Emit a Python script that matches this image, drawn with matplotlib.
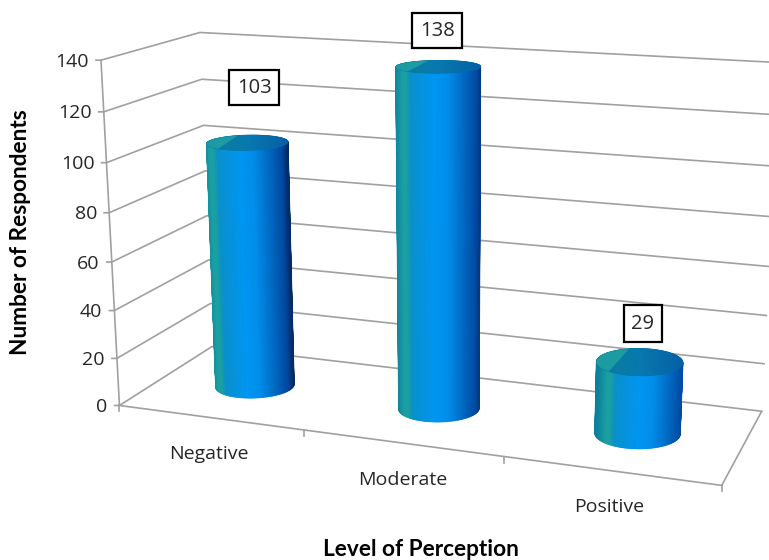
import numpy as np
from matplotlib import pyplot as plt
from matplotlib.collections import LineCollection
from matplotlib.colors import LinearSegmentedColormap
from matplotlib.patches import Rectangle

# data
categories = ["Negative", "Moderate", "Positive"]
respondents = [103, 138, 29]
y_ticks = [0, 20, 40, 60, 80, 100, 120, 140]

# look of the excel style 3d chart
grid_color = "#a0a0a0"
bar_x = [0.5, 1.5, 2.5]
bar_d = [0.5, 0.5, 0.5]
# base ellipse on the floor, in pixels
base_rx = [39, 40, 42.5]
base_ry = [12, 13, 15]
base_tilt = [-1.5, -0.5, 0.5]
shade_shift = [0.07, 0.03, -0.02]
label_off = [(7, -55), (-1, -36), (3, -38)]
box_size = [(50, 35), (50, 35), (38, 37)]
cat_off = [(-1, 36), (0, 37), (-2, 36)]

side_cmap = LinearSegmentedColormap.from_list("side", [
    (0.00, "#0c7f9c"), (0.10, "#1a9fa3"), (0.15, "#1a9fa3"), (0.20, "#0a90cc"),
    (0.45, "#0096f2"), (0.60, "#008eea"), (0.84, "#005cb4"), (0.93, "#0048a0"), (1.00, "#002c66")])
top_cmap = LinearSegmentedColormap.from_list("top", ["#0a7d9c", "#0879ae", "#0460a6"])

# box corners (cat, depth, value) and where they land on the picture
corners_3d = np.array([[0, 0, 0], [3, 0, 0], [0, 1, 0], [3, 1, 0],
                       [0, 0, 140], [0, 1, 140], [3, 1, 140]], dtype=float)
corners_px = np.array([[119.5, 406], [721.7, 485], [212, 346], [761.7, 411.7],
                       [101, 60], [200, 32.7], [779, 62.5]])


def fit_camera(pts, px):
    a = []
    b = []
    for (x, d, z), (u, v) in zip(pts, px):
        a.append([x, d, z, 1, 0, 0, 0, 0, -u * x, -u * d, -u * z])
        b.append(u)
        a.append([0, 0, 0, 0, x, d, z, 1, -v * x, -v * d, -v * z])
        b.append(v)
    sol = np.linalg.lstsq(np.array(a), np.array(b), rcond=None)[0]
    return np.append(sol, 1).reshape(3, 4)


cam = fit_camera(corners_3d, corners_px)


def proj(x, d, z):
    x, d, z = np.broadcast_arrays(np.asarray(x, float), np.asarray(d, float), np.asarray(z, float))
    h = cam @ np.stack([x, d, z, np.ones_like(x)])
    return h[0] / h[2], h[1] / h[2]


def line3d(ax, a, b, **kw):
    xa, ya = proj(*a)
    xb, yb = proj(*b)
    ax.plot([xa, xb], [ya, yb], color=grid_color, lw=1.2, solid_capstyle="round", zorder=1, **kw)


def floor_offsets(cx, cd, du, dv):
    # turn pixel offsets on the floor into cat/depth offsets
    e = 1e-3
    x0, y0 = proj(cx, cd, 0)
    x1, y1 = proj(cx + e, cd, 0)
    x2, y2 = proj(cx, cd + e, 0)
    jac = np.array([[(x1 - x0) / e, (x2 - x0) / e], [(y1 - y0) / e, (y2 - y0) / e]])
    off = np.linalg.solve(jac, np.vstack([du, dv]))
    return cx + off[0], cd + off[1]


def cylinder(ax, cx, cd, h, rx, ry, tilt, shift, z0):
    # side, th runs over the front half from left to right
    th = np.linspace(np.pi, 0, 121)
    xs, ds = floor_offsets(cx, cd, rx * np.cos(th), ry * np.sin(th) + tilt * np.cos(th))
    bx, by = proj(xs, ds, 0)
    tx, ty = proj(xs, ds, h)
    t = (np.cos(th) + 1) / 2
    c = np.clip((t + shift) / 1.07, 0, 1)
    ax.pcolormesh(np.array([bx, tx]), np.array([by, ty]), np.array([c, c]), cmap=side_cmap,
                  vmin=0, vmax=1, shading="gouraud", zorder=z0)
    # smooth the edges of the mesh
    segs = [[(bx[i], by[i]), (bx[i + 1], by[i + 1])] for i in range(len(th) - 1)]
    segs.append([(bx[0], by[0]), (tx[0], ty[0])])
    segs.append([(bx[-1], by[-1]), (tx[-1], ty[-1])])
    cols = [side_cmap(v) for v in c[:-1]] + [side_cmap(c[0]), side_cmap(c[-1])]
    ax.add_collection(LineCollection(segs, colors=cols, linewidths=1.1, zorder=z0 + 0.5))

    # top
    us = np.sin(np.linspace(-np.pi / 2, np.pi / 2, 101))
    w = np.sqrt(np.clip(1 - us ** 2, 0, 1))
    xf, df = floor_offsets(cx, cd, rx * us, ry * w + tilt * us)
    xb, db = floor_offsets(cx, cd, rx * us, -ry * w + tilt * us)
    fx, fy = proj(xf, df, h)
    kx, ky = proj(xb, db, h)
    c = (us + 1) / 2
    ax.fill(np.r_[fx, kx[::-1]], np.r_[fy, ky[::-1]], color=top_cmap(0.5), lw=0.5, zorder=z0 + 1)
    ax.pcolormesh(np.array([fx, kx]), np.array([fy, ky]), np.array([c, c]), cmap=top_cmap,
                  vmin=0, vmax=1, shading="gouraud", zorder=z0 + 1)

    # teal part of the top
    a = np.radians(np.linspace(135, 255, 60))
    xt, dt = floor_offsets(cx, cd, rx * np.cos(a), ry * np.sin(a) + tilt * np.cos(a))
    px, py = proj(xt, dt, h)
    ax.fill(px, py, color="#1c9ca2", lw=0.3, zorder=z0 + 2)


plt.rcParams["font.family"] = ["Open Sans", "DejaVu Sans"]
fig = plt.figure(figsize=(7.69, 5.6), dpi=100)
ax = fig.add_axes([0, 0, 1, 1])
ax.set_xlim(0, 769)
ax.set_ylim(560, 0)
ax.axis("off")

# walls
for v in y_ticks:
    xa, ya = proj(0, 0, v)
    xb, yb = proj(0, 1, v)
    xc, yc = proj(3, 1, v)
    ax.plot([xa - 5, xa, xb, xc], [ya, ya, yb, yc], color=grid_color, lw=1.2, zorder=1)
    ax.text(xa - 12, ya + 1.5, str(v), ha="right", va="center", fontsize=14, color="#262626")

line3d(ax, (0, 0, 0), (0, 0, 140))
line3d(ax, (0, 0, 0), (3, 0, 0))
line3d(ax, (3, 0, 0), (3, 1, 0))

# category ticks on the front edge
for i in range(4):
    xa, ya = proj(i, 0, 0)
    ax.plot([xa, xa], [ya, ya + 6], color=grid_color, lw=1.2, zorder=1)

for i, name in enumerate(categories):
    xa, ya = proj(i + 0.5, 0, 0)
    ax.text(xa + cat_off[i][0], ya + cat_off[i][1], name, ha="center", va="center",
            fontsize=14, color="#262626")

for i, val in enumerate(respondents):
    cylinder(ax, bar_x[i], bar_d[i], val, base_rx[i], base_ry[i], base_tilt[i], shade_shift[i], 3 + i * 3)
    xa, ya = proj(bar_x[i], bar_d[i], val)
    bx = xa + label_off[i][0]
    by = ya + label_off[i][1]
    w, h = box_size[i]
    ax.add_patch(Rectangle((bx - w / 2, by - h / 2), w, h, fc="white", ec="black", lw=1.6, zorder=20))
    ax.text(bx, by, str(val), ha="center", va="center", fontsize=14.5, color="#262626", zorder=21)

ax.text(20.5, 232, "Number of Respondents", rotation=90, ha="center", va="center",
        fontsize=16.3, fontweight="bold", family=["Lato", "DejaVu Sans"], color="black")
ax.text(421, 550, "Level of Perception", ha="center", va="center",
        fontsize=16.3, fontweight="bold", family=["Lato", "DejaVu Sans"], color="black")

ax.set_xlim(0, 769)
ax.set_ylim(560, 0)
fig.savefig("out.png", dpi=100)
